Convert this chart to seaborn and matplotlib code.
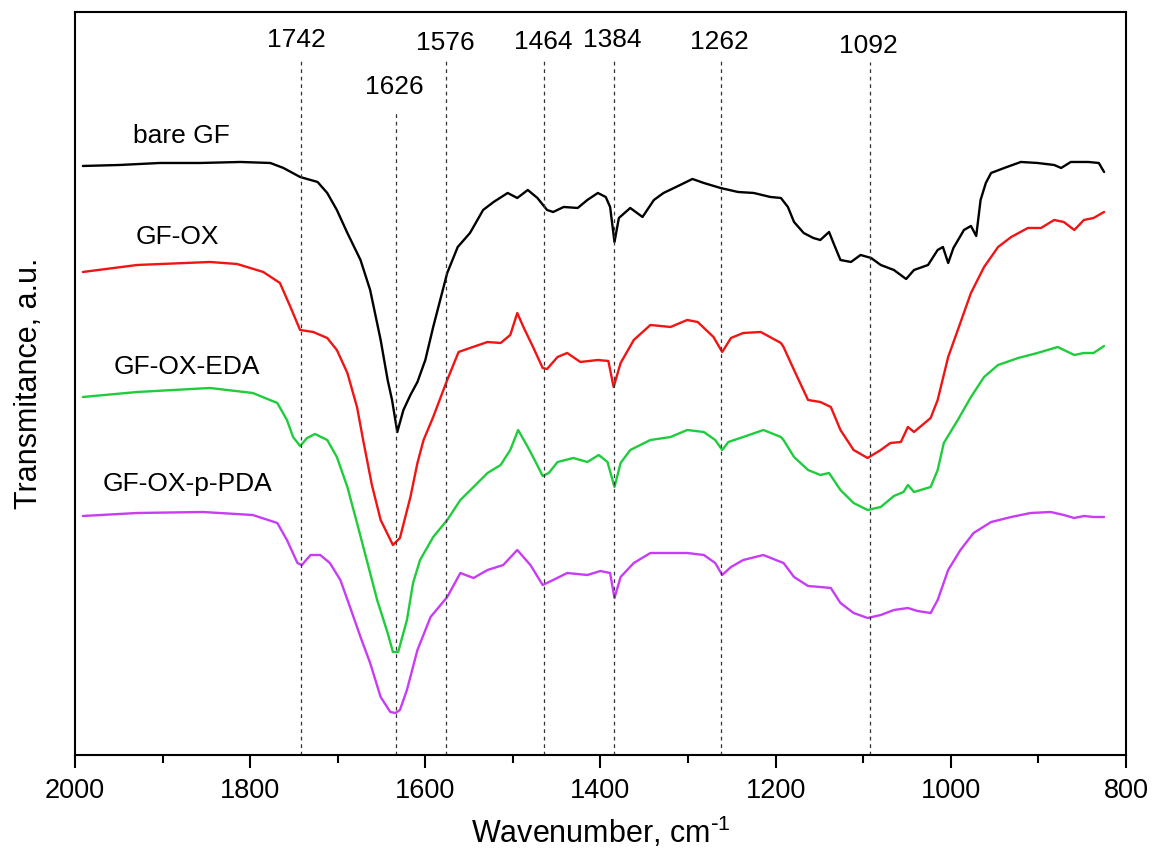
import numpy as np
import pandas as pd
import matplotlib
matplotlib.use("Agg")
import matplotlib.pyplot as plt
import seaborn as sns

# FTIR spectra (wavenumber in cm-1, transmittance in a.u.)
bare_wn = [1991, 1949, 1903, 1857, 1811, 1777, 1762, 1743, 1723, 1712, 1701, 1689, 1674, 1663,
           1651, 1643, 1638, 1632, 1625, 1617, 1609, 1600, 1591, 1575, 1563, 1549, 1534, 1522,
           1506, 1495, 1483, 1472, 1461, 1454, 1442, 1426, 1415, 1403, 1394, 1389, 1384, 1379,
           1366, 1352, 1339, 1328, 1309, 1295, 1282, 1263, 1243, 1225, 1206, 1194, 1186, 1179,
           1168, 1157, 1149, 1139, 1134, 1126, 1114, 1103, 1091, 1080, 1065, 1051, 1042, 1026,
           1015, 1009, 1003, 997, 985, 977, 971, 966, 960, 954, 939, 920, 901, 882, 874, 863,
           843, 831, 825]
bare_t = [589, 590, 592, 592, 593, 592, 587, 578, 573, 562, 545, 522, 495, 465,
          415, 375, 355, 323, 345, 360, 373, 395, 428, 482, 508, 522, 545, 553,
          562, 557, 565, 557, 545, 543, 548, 547, 555, 562, 558, 548, 513, 537,
          547, 538, 555, 562, 570, 576, 572, 567, 563, 562, 558, 557, 548, 533,
          522, 517, 515, 523, 512, 495, 493, 500, 497, 490, 485, 476, 485, 490,
          505, 508, 492, 507, 525, 529, 519, 555, 572, 582, 587, 593, 592, 590, 587, 593,
          593, 592, 583]

ox_wn = [1991, 1929, 1846, 1815, 1785, 1766, 1754, 1743, 1728, 1712, 1701, 1689, 1678, 1671,
         1661, 1651, 1637, 1629, 1617, 1609, 1602, 1591, 1575, 1562, 1549, 1529, 1514, 1503,
         1495, 1488, 1477, 1466, 1461, 1449, 1438, 1423, 1403, 1391, 1385, 1377, 1362, 1343,
         1320, 1301, 1289, 1271, 1261, 1251, 1237, 1217, 1194, 1191, 1179, 1163, 1149, 1137,
         1126, 1111, 1095, 1080, 1069, 1057, 1049, 1042, 1023, 1015, 1003, 992, 977, 962,
         946, 931, 912, 897, 882, 871, 859, 848, 837, 825]
ox_t = [483, 490, 493, 491, 483, 472, 448, 425, 423, 417, 405, 382, 348, 315,
        270, 235, 210, 217, 258, 292, 315, 338, 375, 403, 407, 413, 412, 420,
        442, 428, 408, 387, 386, 398, 402, 393, 395, 394, 368, 392, 415, 430,
        428, 435, 433, 418, 403, 417, 422, 423, 412, 408, 385, 355, 353, 348,
        325, 305, 297, 305, 312, 313, 328, 323, 337, 355, 398, 425, 462, 488,
        508, 518, 527, 527, 535, 533, 525, 535, 537, 543]

eda_wn = [1991, 1929, 1846, 1797, 1769, 1758, 1751, 1743, 1735, 1726, 1712, 1701, 1689, 1678,
          1666, 1655, 1643, 1637, 1631, 1621, 1614, 1606, 1591, 1575, 1560, 1545, 1529, 1514,
          1503, 1494, 1483, 1474, 1466, 1459, 1449, 1431, 1415, 1402, 1392, 1384, 1377, 1366,
          1343, 1320, 1301, 1282, 1269, 1261, 1254, 1237, 1214, 1194, 1191, 1179, 1163, 1149,
          1139, 1126, 1111, 1095, 1080, 1065, 1054, 1049, 1042, 1023, 1015, 1008, 992, 977,
          962, 946, 923, 901, 878, 859, 848, 837, 825]
eda_t = [358, 363, 367, 362, 352, 335, 318, 309, 317, 321, 315, 298, 268, 232,
         192, 155, 122, 103, 103, 135, 172, 195, 218, 235, 255, 268, 282, 290,
         305, 325, 308, 293, 279, 282, 293, 297, 293, 300, 293, 268, 292, 305,
         315, 318, 325, 323, 315, 305, 313, 318, 325, 318, 315, 298, 285, 280,
         282, 265, 252, 245, 248, 259, 263, 270, 263, 268, 285, 312, 335, 358,
         378, 390, 397, 402, 408, 400, 402, 402, 409]

pda_wn = [1991, 1929, 1854, 1797, 1769, 1758, 1746, 1741, 1731, 1720, 1709, 1697, 1686, 1674,
          1663, 1651, 1640, 1634, 1629, 1621, 1609, 1594, 1575, 1560, 1545, 1529, 1511, 1495,
          1480, 1466, 1454, 1438, 1415, 1400, 1389, 1384, 1377, 1362, 1343, 1320, 1301, 1282,
          1269, 1261, 1251, 1237, 1214, 1194, 1191, 1179, 1163, 1149, 1137, 1126, 1111, 1095,
          1080, 1065, 1049, 1038, 1023, 1015, 1003, 989, 974, 954, 931, 909, 886, 871, 859,
          848, 837, 825]
pda_t = [239, 242, 243, 240, 232, 215, 192, 190, 200, 200, 192, 175, 148, 118,
         92, 58, 43, 42, 45, 65, 105, 138, 158, 182, 177, 185, 190, 205,
         190, 170, 175, 182, 180, 184, 182, 157, 178, 192, 202, 202, 202, 200,
         192, 180, 188, 195, 200, 193, 192, 178, 169, 168, 167, 152, 142, 137,
         140, 145, 147, 144, 142, 155, 185, 205, 222, 233, 238, 242, 243, 240, 237,
         239, 238, 238]

sample_names = ["bare GF", "GF-OX", "GF-OX-EDA", "GF-OX-p-PDA"]
sample_colors = ["#000000", "#f01414", "#1ecc3c", "#c83cf5"]
# where each sample name sits (wavenumber, a.u.)
name_wn = [1878, 1883, 1872, 1871]
name_t = [619, 518, 388, 271]

# dashed marker lines: label text, label x, label height, line position, top of line
peak_labels = ["1742", "1626", "1576", "1464", "1384", "1262", "1092"]
peak_label_wn = [1747, 1635, 1577, 1465, 1386, 1264, 1094]
peak_label_t = [715, 668, 712, 713, 715, 713, 709]
peak_pos = [1742, 1633, 1576, 1464, 1384, 1262, 1092]
peak_line_top = [696, 642, 695, 695, 697, 695, 693]

spectra = [(bare_wn, bare_t), (ox_wn, ox_t), (eda_wn, eda_t), (pda_wn, pda_t)]

sns.set_theme(style="ticks")
plt.rcParams["font.family"] = ["Liberation Sans", "DejaVu Sans"]
plt.rcParams["mathtext.default"] = "regular"
plt.rcParams["text.color"] = "black"
plt.rcParams["axes.labelcolor"] = "black"
plt.rcParams["xtick.color"] = "black"

fig = plt.figure(figsize=(11.52, 8.61), dpi=100)
ax = fig.add_axes([0.0651, 0.1231, 0.9123, 0.863])

for (wn, t), name, col in zip(spectra, sample_names, sample_colors):
    df = pd.DataFrame({"wn": wn, "t": t})
    sns.lineplot(data=df, x="wn", y="t", sort=False, color=col, linewidth=1.7,
                 ax=ax, legend=False)

for pos, top in zip(peak_pos, peak_line_top):
    ax.plot([pos, pos], [0, top], color="#333333", linestyle=(0, (3, 3)), linewidth=0.9)
for lab, x, y in zip(peak_labels, peak_label_wn, peak_label_t):
    ax.text(x, y, lab, ha="center", va="center", fontsize=19)

for name, x, y in zip(sample_names, name_wn, name_t):
    ax.text(x, y, name, ha="center", va="center", fontsize=19)

ax.set_xlim(2000, 800)
ax.set_ylim(0, 743)
ax.set_xticks(np.arange(2000, 799, -200))
ax.set_xticks(np.arange(1900, 800, -200), minor=True)
ax.set_yticks([])
ax.tick_params(axis="x", which="major", direction="out", length=9.5, width=1.5,
               labelsize=19.5, pad=7)
ax.tick_params(axis="x", which="minor", direction="out", length=5.8, width=1.5)
for s in ax.spines.values():
    s.set_linewidth(1.5)
    s.set_color("black")

ax.set_xlabel(r"Wavenumber, cm$^{\text{-}1}$", fontsize=22, labelpad=8)
ax.set_ylabel("Transmitance, a.u.", fontsize=22, labelpad=22)

fig.savefig("out.png", dpi=100)
